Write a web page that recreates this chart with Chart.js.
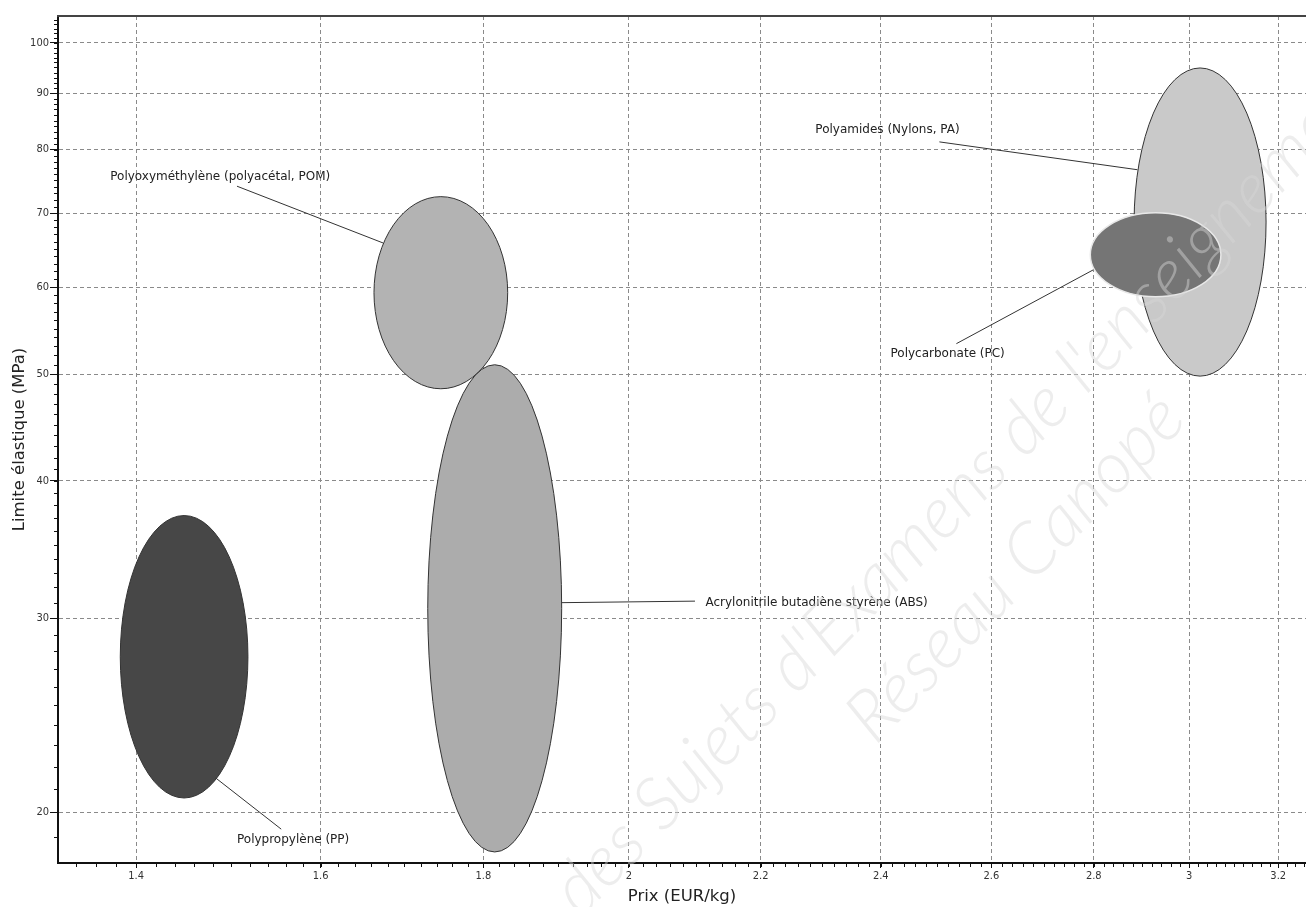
<!DOCTYPE html>
<html>
<head>
<meta charset="utf-8">
<script src="https://cdn.jsdelivr.net/npm/chart.js@4/dist/chart.umd.min.js"></script>
<style>
  html, body { margin: 0; padding: 0; background: #fff; }
  canvas { display: block; }
</style>
</head>
<body>
<canvas id="ashby" width="1306" height="907"></canvas>
<script>
// Matériaux (prix en EUR/kg, limite élastique en MPa)
const materials = ['Polypropylène (PP)', 'Polyoxyméthylène (polyacétal, POM)', 'Acrylonitrile butadiène styrène (ABS)', 'Polyamides (Nylons, PA)', 'Polycarbonate (PC)'];
const priceMin = [1.384, 1.663, 1.729, 2.883, 2.793];
const priceMax = [1.518, 1.832, 1.905, 3.172, 3.070];
const yieldMin = [20.6, 48.5, 18.4, 49.8, 58.8];
const yieldMax = [37.2, 72.5, 51.0, 94.9, 70.1];

const priceTicks = [1.4, 1.6, 1.8, 2, 2.2, 2.4, 2.6, 2.8, 3, 3.2];
const yieldTicks = [20, 30, 40, 50, 60, 70, 80, 90, 100];

// couleurs des zones
const fills = ['#474747', '#b3b3b3', '#acacac', '#c9c9c9', '#757575'];
const strokes = ['#333', '#333', '#333', '#333', '#e8e8e8'];

// étiquettes : texte (prix, limite) + trait de rappel (from -> to), en coordonnées des axes
const labelSpots = [
  { at: [1.506, 18.86], from: [1.483, 21.48], to: [1.555, 19.3] },
  { at: [1.374, 75.5], from: [1.674, 65.8], to: [1.506, 74.1] },
  { at: [2.114, 31.0], from: [1.905, 31.0], to: [2.098, 31.1] },
  { at: [2.289, 83.4], from: [2.890, 76.7], to: [2.504, 81.3] },
  { at: [2.417, 52.2], from: [2.799, 62.2], to: [2.535, 53.3] }
];

const FONT = '"DejaVu Sans Condensed", "DejaVu Sans", sans-serif';
const FONT_WIDE = '"DejaVu Sans", sans-serif';

const ellipsePlugin = {
  id: 'ellipses',
  beforeDatasetsDraw(chart) {
    const { ctx, scales: { x, y }, chartArea } = chart;
    ctx.save();
    ctx.beginPath();
    ctx.rect(chartArea.left, chartArea.top, chartArea.right - chartArea.left, chartArea.bottom - chartArea.top);
    ctx.clip();
    materials.forEach((m, i) => {
      const x0 = x.getPixelForValue(priceMin[i]), x1 = x.getPixelForValue(priceMax[i]);
      const y0 = y.getPixelForValue(yieldMax[i]), y1 = y.getPixelForValue(yieldMin[i]);
      ctx.beginPath();
      ctx.ellipse((x0 + x1) / 2, (y0 + y1) / 2, (x1 - x0) / 2, (y1 - y0) / 2, 0, 0, Math.PI * 2);
      ctx.fillStyle = fills[i];
      ctx.fill();
      ctx.lineWidth = i === 4 ? 1.5 : 1;
      ctx.strokeStyle = strokes[i];
      ctx.stroke();
    });
    ctx.restore();
  },
  afterDraw(chart) {
    const { ctx, scales: { x, y }, chartArea } = chart;
    ctx.save();
    // leader lines + labels
    ctx.strokeStyle = '#333';
    ctx.lineWidth = 1;
    ctx.font = '12px ' + FONT_WIDE;
    ctx.fillStyle = '#222';
    ctx.textBaseline = 'middle';
    ctx.textAlign = 'left';
    labelSpots.forEach((s, i) => {
      ctx.beginPath();
      ctx.moveTo(x.getPixelForValue(s.from[0]), y.getPixelForValue(s.from[1]));
      ctx.lineTo(x.getPixelForValue(s.to[0]), y.getPixelForValue(s.to[1]));
      ctx.stroke();
      ctx.fillText(materials[i], x.getPixelForValue(s.at[0]), y.getPixelForValue(s.at[1]));
    });

    // minor ticks
    ctx.strokeStyle = '#111';
    ctx.beginPath();
    for (let v = 1.34; v <= 3.27; v += 0.02) {
      const px = Math.round(x.getPixelForValue(v)) + 0.5;
      if (px < chartArea.left || px > chartArea.right) continue;
      ctx.moveTo(px, chartArea.bottom);
      ctx.lineTo(px, chartArea.bottom + 4);
    }
    for (let v = 19; v <= 105; v++) {
      const py = Math.round(y.getPixelForValue(v)) + 0.5;
      if (py < chartArea.top || py > chartArea.bottom) continue;
      ctx.moveTo(chartArea.left - 4, py);
      ctx.lineTo(chartArea.left, py);
    }
    ctx.stroke();

    // top frame
    ctx.strokeStyle = '#444';
    ctx.lineWidth = 2;
    ctx.beginPath();
    ctx.moveTo(chartArea.left - 1, chartArea.top);
    ctx.lineTo(chartArea.right, chartArea.top);
    ctx.stroke();

    // filigrane
    ctx.fillStyle = 'rgba(215, 215, 215, 0.45)';
    ctx.font = 'italic 300 72px Lato, "Open Sans", sans-serif';
    ctx.textAlign = 'center';
    ctx.textBaseline = 'middle';
    ctx.translate(880, 590);
    ctx.rotate(-46 * Math.PI / 180);
    ctx.fillText("Banque des Sujets d'Examens de l'enseignement", 15, -10);
    ctx.fillText('Réseau Canopé', 110, 82);
    ctx.restore();
  }
};

new Chart(document.getElementById('ashby'), {
  type: 'scatter',
  data: {
    datasets: [{
      data: materials.map((m, i) => ({ x: (priceMin[i] + priceMax[i]) / 2, y: Math.sqrt(yieldMin[i] * yieldMax[i]) })),
      pointRadius: 0,
      pointHoverRadius: 0
    }]
  },
  options: {
    responsive: false,
    animation: false,
    events: [],
    layout: { padding: { top: 16, right: 0, left: 0, bottom: 0 } },
    plugins: { legend: { display: false }, tooltip: { enabled: false } },
    scales: {
      x: {
        type: 'logarithmic',
        bounds: 'data',
        min: 1.323,
        max: 3.265,
        afterBuildTicks: s => { s.ticks = priceTicks.map(v => ({ value: v })); },
        afterFit: s => { s.height = 44; },
        ticks: {
          autoSkip: false, maxRotation: 0, padding: 2,
          color: '#333', font: { family: FONT, size: 11 },
          callback: v => String(v)
        },
        grid: { color: '#8a8a8a', tickColor: '#111', tickLength: 5, lineWidth: 1 },
        border: { color: '#111', width: 2, dash: [4, 3] },
        title: { display: true, text: 'Prix (EUR/kg)', color: '#222', font: { family: FONT_WIDE, size: 16.5 }, padding: { top: 0, bottom: 0 } }
      },
      y: {
        type: 'logarithmic',
        bounds: 'data',
        min: 17.98,
        max: 105.8,
        afterBuildTicks: s => { s.ticks = yieldTicks.map(v => ({ value: v })); },
        afterFit: s => { s.width = 58; },
        ticks: {
          autoSkip: false, padding: 1,
          color: '#333', font: { family: FONT, size: 11 },
          callback: v => String(v)
        },
        grid: { color: '#8a8a8a', tickColor: '#111', tickLength: 8, lineWidth: 1 },
        border: { color: '#111', width: 2, dash: [4, 3] },
        title: { display: true, text: 'Limite élastique (MPa)', color: '#222', font: { family: FONT_WIDE, size: 16.5 }, padding: { top: 10, bottom: 0 } }
      }
    }
  },
  plugins: [ellipsePlugin]
});
</script>
</body>
</html>
